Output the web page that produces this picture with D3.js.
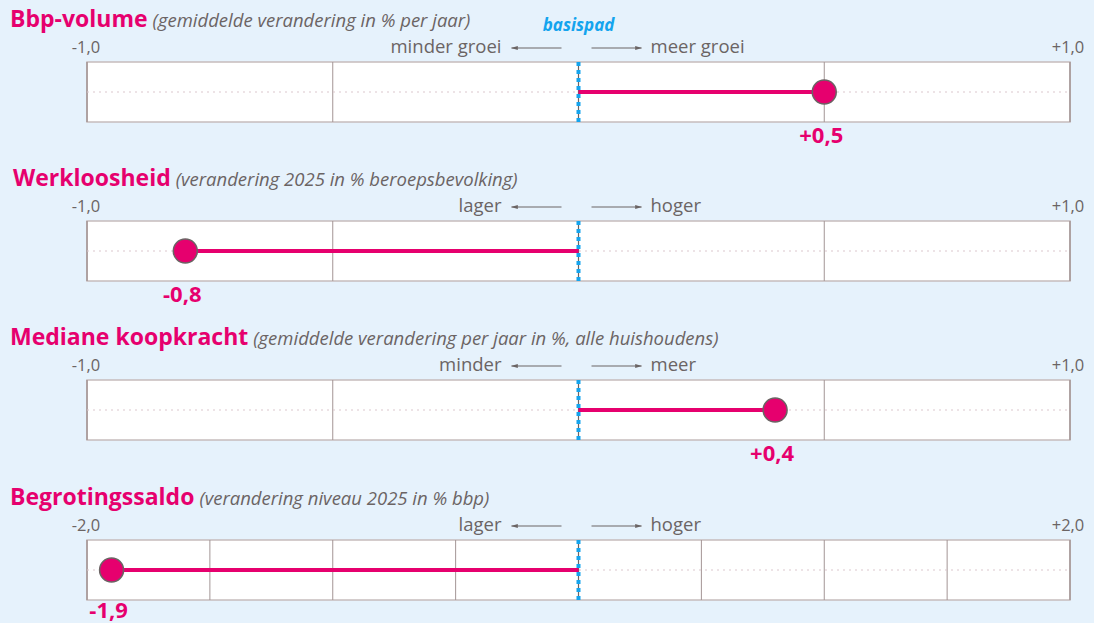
<!DOCTYPE html>
<html>
<head>
<meta charset="utf-8">
<script src="https://cdn.jsdelivr.net/npm/d3@7"></script>
<style>
  body { margin: 0; background: #e6f2fc; }
  svg { display: block; font-family: "Open Sans", sans-serif; }
</style>
</head>
<body>
<div class="chart"></div>
<script>
// data
const titles = ["Bbp-volume", "Werkloosheid", "Mediane koopkracht", "Begrotingssaldo"];
const subtitles = [
    "(gemiddelde verandering in % per jaar)",
    "(verandering 2025 in % beroepsbevolking)",
    "(gemiddelde verandering per jaar in %, alle huishoudens)",
    "(verandering niveau 2025 in % bbp)"
];
const values = [0.5, -0.8, 0.4, -1.9];
const valueLabels = ["+0,5", "-0,8", "+0,4", "-1,9"];
const scaleMax = [1, 1, 1, 2];
const minLabels = ["-1,0", "-1,0", "-1,0", "-2,0"];
const maxLabels = ["+1,0", "+1,0", "+1,0", "+2,0"];
const leftWords = ["minder groei", "lager", "minder", "lager"];
const rightWords = ["meer groei", "hoger", "meer", "hoger"];

function drawChart() {
    const width = 1094, height = 623;
    const left = 87, right = 1070;
    const panelTops = [62, 221, 380, 540];
    const panelH = 60;
    const pink = "#e6006e", blue = "#14a4ee", grey = "#6b6464";

    const svg = d3.select(".chart").append("svg")
        .attr("width", width)
        .attr("height", height);

    svg.append("rect").attr("width", width).attr("height", height).attr("fill", "#e6f2fc");

    const defs = svg.append("defs");
    defs.append("marker")
        .attr("id", "head")
        .attr("viewBox", "0 0 10 10")
        .attr("refX", 9).attr("refY", 5)
        .attr("markerWidth", 7).attr("markerHeight", 7)
        .attr("orient", "auto")
        .append("path")
        .attr("d", "M0,2 L10,5 L0,8 Z")
        .attr("fill", grey);

    titles.forEach((t, i) => {
        const top = panelTops[i];
        const x = d3.scaleLinear().domain([-scaleMax[i], scaleMax[i]]).range([left, right]);
        const mid = top + panelH / 2;
        const g = svg.append("g");

        // title + subtitle
        const title = g.append("text")
            .attr("x", i == 1 ? 13 : 10)
            .attr("y", top - 35)
            .style("font-size", "23px");
        title.append("tspan").attr("font-weight", 700).attr("fill", pink).text(t);
        title.append("tspan").attr("font-style", "italic").attr("fill", grey)
            .style("font-size", "18.5px").attr("dx", 5).text(subtitles[i]);

        // tick labels at the ends
        g.append("text").attr("x", x(-scaleMax[i]) - 1).attr("y", top - 9)
            .attr("text-anchor", "middle").attr("fill", grey).style("font-size", "16.5px")
            .text(minLabels[i]);
        g.append("text").attr("x", x(scaleMax[i]) - 2).attr("y", top - 9)
            .attr("text-anchor", "middle").attr("fill", grey).style("font-size", "16.5px")
            .text(maxLabels[i]);

        // direction words and arrows
        const c = x(0) - 2;
        const ay = top - 14;
        g.append("line").attr("x1", c - 15).attr("x2", c - 65).attr("y1", ay).attr("y2", ay)
            .attr("stroke", grey).attr("stroke-width", 1).attr("marker-end", "url(#head)");
        g.append("line").attr("x1", c + 15).attr("x2", c + 65).attr("y1", ay).attr("y2", ay)
            .attr("stroke", grey).attr("stroke-width", 1).attr("marker-end", "url(#head)");
        g.append("text").attr("x", c - 75).attr("y", top - 9).attr("text-anchor", "end")
            .attr("fill", grey).style("font-size", "18.5px").text(leftWords[i]);
        g.append("text").attr("x", c + 74).attr("y", top - 9)
            .attr("fill", grey).style("font-size", "18.5px").text(rightWords[i]);

        if (i == 0) {
            g.append("text").attr("x", x(0)).attr("y", top - 31).attr("text-anchor", "middle")
                .attr("fill", blue).attr("font-weight", 700).attr("font-style", "italic")
                .style("font-size", "17px").text("basispad");
        }

        // panel
        g.append("rect").attr("x", left).attr("y", top).attr("width", right - left).attr("height", panelH)
            .attr("fill", "#fff").attr("stroke", "#c6bcbc").attr("stroke-width", 1.5);

        const grid = d3.range(-scaleMax[i], scaleMax[i] + 0.001, 0.5);
        g.selectAll(".grid")
            .data(grid)
            .enter()
            .append("line")
                .attr("x1", d => x(d)).attr("x2", d => x(d))
                .attr("y1", top).attr("y2", top + panelH)
                .attr("stroke", "#a39595")
                .attr("stroke-width", d => Math.abs(d) == scaleMax[i] ? 1.5 : 1);

        g.append("line").attr("x1", left).attr("x2", right).attr("y1", mid).attr("y2", mid)
            .attr("stroke", "#dcc8ce").attr("stroke-width", 1.2).attr("stroke-dasharray", "2,4");

        // baseline (basispad)
        g.append("line").attr("x1", x(0)).attr("x2", x(0)).attr("y1", top).attr("y2", top + panelH)
            .attr("stroke", grey).attr("stroke-width", 1.2);
        g.append("line").attr("x1", x(0)).attr("x2", x(0)).attr("y1", top).attr("y2", top + panelH)
            .attr("stroke", blue).attr("stroke-width", 4).attr("stroke-dasharray", "4,4");

        // value
        g.append("line").attr("x1", x(0)).attr("x2", x(values[i])).attr("y1", mid).attr("y2", mid)
            .attr("stroke", pink).attr("stroke-width", 4);
        g.append("circle").attr("cx", x(values[i])).attr("cy", mid).attr("r", 12)
            .attr("fill", pink).attr("stroke", grey).attr("stroke-width", 1.5);
        g.append("text").attr("x", x(values[i]) - 3).attr("y", top + panelH + (i == 3 ? 18 : 21))
            .attr("text-anchor", "middle").attr("fill", pink).attr("font-weight", 700)
            .style("font-size", "22px").text(valueLabels[i]);
    });
}

drawChart();
</script>
</body>
</html>
